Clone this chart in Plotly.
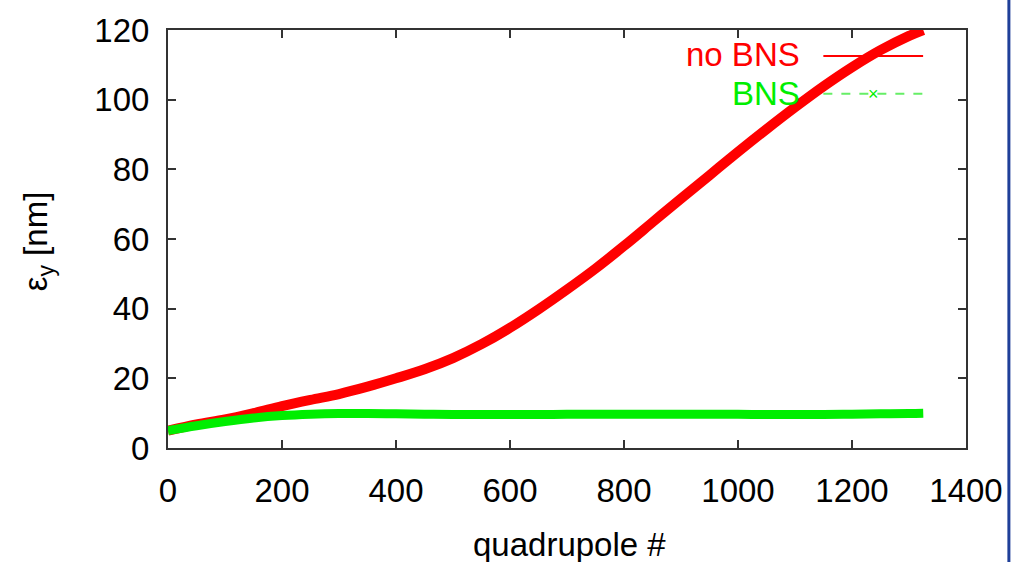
import plotly.graph_objects as go

# --- data ---
quad = [0, 50, 100, 150, 200, 250, 300, 350, 400, 450, 500, 550, 600, 650, 700, 750,
        800, 850, 900, 950, 1000, 1050, 1100, 1150, 1200, 1250, 1300, 1325]
no_bns = [5.0, 6.8, 8.2, 10.0, 12.0, 13.8, 15.5, 17.6, 20.0, 22.6, 25.8, 29.8, 34.5, 39.8,
          45.5, 51.5, 58.0, 64.8, 71.6, 78.3, 85.0, 91.5, 97.8, 103.8, 109.3, 114.2, 118.3, 120.0]
bns = [5.0, 6.4, 7.6, 8.6, 9.3, 9.7, 9.9, 9.9, 9.8, 9.7, 9.6, 9.6, 9.6, 9.6,
       9.7, 9.7, 9.7, 9.7, 9.7, 9.7, 9.7, 9.6, 9.6, 9.6, 9.7, 9.8, 9.9, 10.0]

x_ticks = [0, 200, 400, 600, 800, 1000, 1200, 1400]
y_ticks = [0, 20, 40, 60, 80, 100, 120]
legend_labels = ["no BNS", "BNS"]

RED = "#ff0000"
GREEN = "#00ee00"
FONT = "Liberation Sans, Arial, sans-serif"
FS = 33

fig = go.Figure()
fig.add_trace(go.Scatter(x=quad, y=no_bns, mode="lines",
                         line=dict(color=RED, width=10, shape="spline", smoothing=1.0),
                         name=legend_labels[0], showlegend=False))
fig.add_trace(go.Scatter(x=quad, y=bns, mode="lines",
                         line=dict(color=GREEN, width=9, shape="spline", smoothing=1.0),
                         name=legend_labels[1], showlegend=False))

axis_common = dict(showline=True, linecolor="#333333", linewidth=2, mirror="ticks",
                   ticks="inside", ticklen=8, tickwidth=2, tickcolor="#333333",
                   showgrid=False, zeroline=False,
                   tickfont=dict(family=FONT, size=FS, color="black"))

fig.update_xaxes(range=[0, 1400], tickvals=x_ticks, ticklabelstandoff=12, **axis_common)
fig.update_yaxes(range=[0, 120], tickvals=y_ticks, ticklabelstandoff=10, **axis_common)

# axis titles
fig.add_annotation(text="quadrupole #", xref="paper", yref="paper", x=(571 - 168) / 800, y=(448 - 545) / 420,
                   showarrow=False, font=dict(family=FONT, size=FS, color="black"),
                   xanchor="center", yanchor="middle")
fig.add_annotation(text="ε<sub>y</sub> [nm]", xref="paper", yref="paper", x=(38 - 168) / 800, y=(448 - 240) / 420,
                   showarrow=False, textangle=-90, font=dict(family=FONT, size=FS, color="black"),
                   xanchor="center", yanchor="middle")

# legend (gnuplot style: text then sample)
def px(xp):
    return (xp - 168) / 800

def py(yp):
    return (448 - yp) / 420

fig.add_annotation(text=legend_labels[0], xref="paper", yref="paper", x=px(804), y=py(53),
                   showarrow=False, xanchor="right", yanchor="middle",
                   font=dict(family=FONT, size=FS, color=RED))
fig.add_annotation(text=legend_labels[1], xref="paper", yref="paper", x=px(804), y=py(92),
                   showarrow=False, xanchor="right", yanchor="middle",
                   font=dict(family=FONT, size=FS, color=GREEN))
fig.add_shape(type="line", xref="paper", yref="paper", x0=px(825), x1=px(925), y0=py(54), y1=py(54),
              line=dict(color=RED, width=2))
fig.add_shape(type="line", xref="paper", yref="paper", x0=px(825), x1=px(925), y0=py(92), y1=py(92),
              line=dict(color="#66ee66", width=2, dash="dash"))
fig.add_annotation(text="×", xref="paper", yref="paper", x=px(875), y=py(92),
                   showarrow=False, xanchor="center", yanchor="middle",
                   font=dict(family=FONT, size=18, color=GREEN))

# blue slide border on the right
fig.add_shape(type="line", xref="paper", yref="paper", x0=px(1011), x1=px(1011), y0=py(-30), y1=py(600),
              line=dict(color="#1f3f99", width=3))

fig.update_layout(width=1015, height=562, margin=dict(l=168, r=47, t=28, b=114),
                  paper_bgcolor="white", plot_bgcolor="white", showlegend=False)

fig.write_html("out.html")
